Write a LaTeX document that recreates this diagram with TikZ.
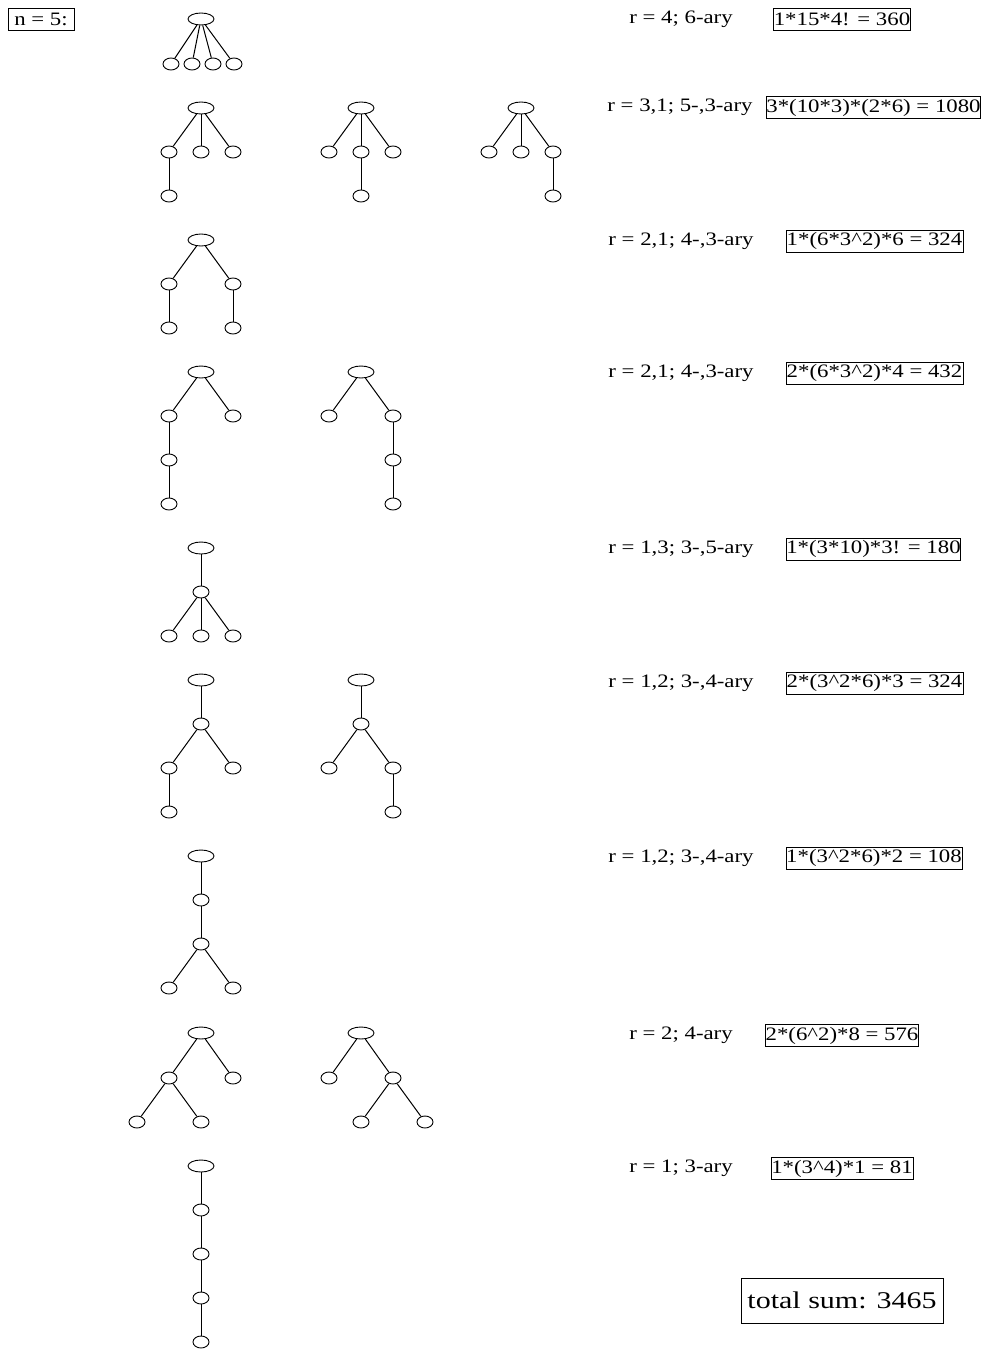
\documentclass[tikz,border=0pt]{standalone}
\usepackage{graphicx}
\usepackage{fontspec}
\setmainfont{Liberation Serif}
\usetikzlibrary{shapes.geometric}
\newcommand{\tx}[1]{\scalebox{1.2}[1]{#1}}
\newcommand{\hc}{\textasciicircum}
\tikzset{
  rt/.style={ellipse,draw,line width=0.9pt,minimum width=26pt,minimum height=12pt,inner sep=0pt},
  lf/.style={ellipse,draw,line width=0.9pt,minimum width=16pt,minimum height=12pt,inner sep=0pt},
  lbl/.style={font=\fontsize{19}{22}\selectfont,inner sep=0pt},
  res/.style={draw,line width=0.9pt,font=\fontsize{19}{22}\selectfont,inner sep=0pt,minimum height=22pt},
  ed/.style={line width=1pt}
}
\begin{document}
\begin{tikzpicture}[x=1pt,y=-1pt]
\useasboundingbox (0,0) rectangle (982,1351);
% header
\node[res,minimum width=66pt] (n5) at (41,19) {\tx{n = 5:}};
% Row 1
\node[rt] (a0) at (201,19) {};
\node[lf] (a1) at (171,64) {};
\node[lf] (a2) at (192,64) {};
\node[lf] (a3) at (213,64) {};
\node[lf] (a4) at (234,64) {};
\foreach \i in {1,...,4} \draw[ed] (a0) -- (a\i);
\node[lbl] (l1) at (681,19) {\tx{r = 4; 6-ary}};
\node[res,minimum width=136pt] (b1) at (842,19) {\tx{1*15*4! = 360}};
% Row 2
\foreach \n/\x in {p/201,q/361,s/521}{
  \node[rt] (\n0) at (\x,108) {};
  \node[lf] (\n1) at (\x-32,152) {};
  \node[lf] (\n2) at (\x,152) {};
  \node[lf] (\n3) at (\x+32,152) {};
  \draw[ed] (\n0) -- (\n1);
  \draw[ed] (\n0) -- (\n2);
  \draw[ed] (\n0) -- (\n3);
}
\node[lf] (p4) at (169,196) {};
\node[lf] (q4) at (361,196) {};
\node[lf] (s4) at (553,196) {};
\draw[ed] (p1) -- (p4);
\draw[ed] (q2) -- (q4);
\draw[ed] (s3) -- (s4);
\node[lbl] (l2) at (680,107) {\tx{r = 3,1; 5-,3-ary}};
\node[res,minimum width=211pt] (b2) at (873.5,107.5) {\tx{3*(10*3)*(2*6) = 1080}};
% Row 3
\node[rt] (c0) at (201,240) {};
\node[lf] (c1) at (169,284) {};
\node[lf] (c2) at (233,284) {};
\node[lf] (c3) at (169,328) {};
\node[lf] (c4) at (233,328) {};
\draw[ed] (c0) -- (c1);
\draw[ed] (c0) -- (c2);
\draw[ed] (c1) -- (c3);
\draw[ed] (c2) -- (c4);
\node[lbl] (l3) at (681,241) {\tx{r = 2,1; 4-,3-ary}};
\node[res,minimum width=177pt] (b3) at (874.5,241) {\tx{1*(6*3\hc2)*6 = 324}};
% Row 4
\node[rt] (d0) at (201,372) {};
\node[lf] (d1) at (169,416) {};
\node[lf] (d2) at (233,416) {};
\node[lf] (d3) at (169,460) {};
\node[lf] (d4) at (169,504) {};
\draw[ed] (d0) -- (d1);
\draw[ed] (d0) -- (d2);
\draw[ed] (d1) -- (d3);
\draw[ed] (d3) -- (d4);
\node[rt] (e0) at (361,372) {};
\node[lf] (e1) at (329,416) {};
\node[lf] (e2) at (393,416) {};
\node[lf] (e3) at (393,460) {};
\node[lf] (e4) at (393,504) {};
\draw[ed] (e0) -- (e1);
\draw[ed] (e0) -- (e2);
\draw[ed] (e2) -- (e3);
\draw[ed] (e3) -- (e4);
\node[lbl] (l4) at (681,373) {\tx{r = 2,1; 4-,3-ary}};
\node[res,minimum width=177pt] (b4) at (874.5,373) {\tx{2*(6*3\hc2)*4 = 432}};
% Row 5
\node[rt] (f0) at (201,548) {};
\node[lf] (f1) at (201,592) {};
\node[lf] (f2) at (169,636) {};
\node[lf] (f3) at (201,636) {};
\node[lf] (f4) at (233,636) {};
\draw[ed] (f0) -- (f1);
\draw[ed] (f1) -- (f2);
\draw[ed] (f1) -- (f3);
\draw[ed] (f1) -- (f4);
\node[lbl] (l5) at (681,549) {\tx{r = 1,3; 3-,5-ary}};
\node[res,minimum width=171pt] (b5) at (873.5,549) {\tx{1*(3*10)*3! = 180}};
% Row 6
\node[rt] (g0) at (201,680) {};
\node[lf] (g1) at (201,724) {};
\node[lf] (g2) at (169,768) {};
\node[lf] (g3) at (233,768) {};
\node[lf] (g4) at (169,812) {};
\draw[ed] (g0) -- (g1);
\draw[ed] (g1) -- (g2);
\draw[ed] (g1) -- (g3);
\draw[ed] (g2) -- (g4);
\node[rt] (h0) at (361,680) {};
\node[lf] (h1) at (361,724) {};
\node[lf] (h2) at (329,768) {};
\node[lf] (h3) at (393,768) {};
\node[lf] (h4) at (393,812) {};
\draw[ed] (h0) -- (h1);
\draw[ed] (h1) -- (h2);
\draw[ed] (h1) -- (h3);
\draw[ed] (h3) -- (h4);
\node[lbl] (l6) at (681,683) {\tx{r = 1,2; 3-,4-ary}};
\node[res,minimum width=177pt] (b6) at (874.5,683) {\tx{2*(3\hc2*6)*3 = 324}};
% Row 7
\node[rt] (i0) at (201,856) {};
\node[lf] (i1) at (201,900) {};
\node[lf] (i2) at (201,944) {};
\node[lf] (i3) at (169,988) {};
\node[lf] (i4) at (233,988) {};
\draw[ed] (i0) -- (i1);
\draw[ed] (i1) -- (i2);
\draw[ed] (i2) -- (i3);
\draw[ed] (i2) -- (i4);
\node[lbl] (l7) at (681,858) {\tx{r = 1,2; 3-,4-ary}};
\node[res,minimum width=176pt] (b7) at (874,858) {\tx{1*(3\hc2*6)*2 = 108}};
% Row 8
\node[rt] (j0) at (201,1033) {};
\node[lf] (j1) at (169,1078) {};
\node[lf] (j2) at (233,1078) {};
\node[lf] (j3) at (137,1122) {};
\node[lf] (j4) at (201,1122) {};
\draw[ed] (j0) -- (j1);
\draw[ed] (j0) -- (j2);
\draw[ed] (j1) -- (j3);
\draw[ed] (j1) -- (j4);
\node[rt] (k0) at (361,1033) {};
\node[lf] (k1) at (329,1078) {};
\node[lf] (k2) at (393,1078) {};
\node[lf] (k3) at (361,1122) {};
\node[lf] (k4) at (425,1122) {};
\draw[ed] (k0) -- (k1);
\draw[ed] (k0) -- (k2);
\draw[ed] (k2) -- (k3);
\draw[ed] (k2) -- (k4);
\node[lbl] (l8) at (681,1035) {\tx{r = 2; 4-ary}};
\node[res,minimum width=152pt] (b8) at (842,1035.5) {\tx{2*(6\hc2)*8 = 576}};
% Row 9
\node[rt] (m0) at (201,1166) {};
\node[lf] (m1) at (201,1210) {};
\node[lf] (m2) at (201,1254) {};
\node[lf] (m3) at (201,1298) {};
\node[lf] (m4) at (201,1342) {};
\draw[ed] (m0) -- (m1);
\draw[ed] (m1) -- (m2);
\draw[ed] (m2) -- (m3);
\draw[ed] (m3) -- (m4);
\node[lbl] (l9) at (681,1168) {\tx{r = 1; 3-ary}};
\node[res,minimum width=142pt] (b9) at (842,1168.5) {\tx{1*(3\hc4)*1 = 81}};
% total
\node[draw,line width=0.9pt,inner sep=0pt,minimum width=202pt,minimum height=45pt,font=\fontsize{24}{28}\selectfont] (tot) at (842,1300.5) {\scalebox{1.25}[1]{total sum: 3465}};
\end{tikzpicture}
\end{document}
